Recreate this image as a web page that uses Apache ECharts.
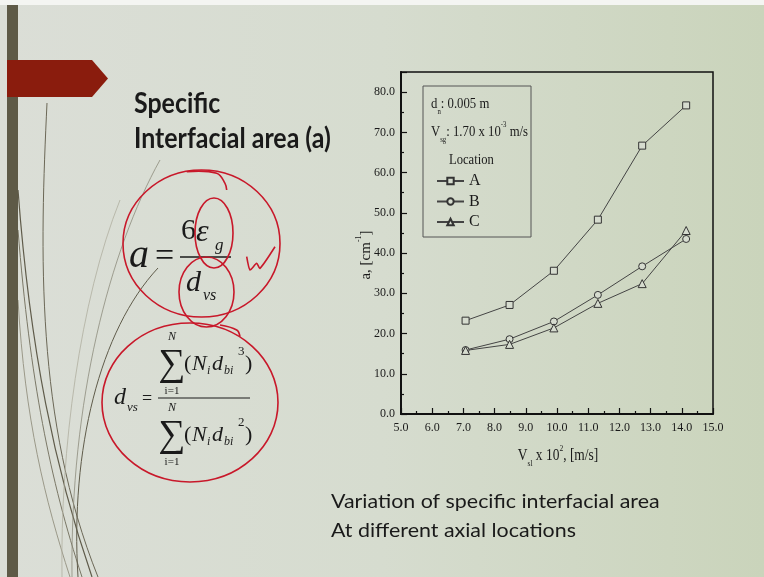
<!DOCTYPE html>
<html>
<head>
<meta charset="utf-8">
<script src="https://cdn.jsdelivr.net/npm/echarts@6/dist/echarts.min.js"></script>
<style>
html,body{margin:0;padding:0;}
#main{width:764px;height:577px;background:linear-gradient(90deg,#dbded7 0%,#d6dccf 50%,#cad4bb 100%);}
</style>
</head>
<body>
<div id="main"></div>
<script>
// ---- data ----
const xValues = [7.07, 8.48, 9.90, 11.31, 12.73, 14.14];
const seriesA = [23.2, 27.1, 35.6, 48.3, 66.7, 76.7];
const seriesB = [15.9, 18.6, 23.0, 29.6, 36.7, 43.5];
const seriesC = [15.8, 17.3, 21.4, 27.5, 32.4, 45.6];
const seriesNames = ['A', 'B', 'C'];
const xTicks = [5, 6, 7, 8, 9, 10, 11, 12, 13, 14, 15];
const yTicks = [0, 10, 20, 30, 40, 50, 60, 70, 80];

const BG = '#d6dccf';
const INK = '#1a1a1a';
const RED = '#c8182a';
const SERIF = '"Liberation Serif","Times New Roman",serif';

function pairs(xs, ys) { return xs.map((x, i) => [x, ys[i]]); }
function txt(x, y, text, size, o) {
  o = o || {};
  return {
    type: 'text', x: x, y: y, z: 50, scaleX: o.sx || 1,
    style: {
      text: text, fill: o.fill || INK, fontSize: size,
      fontFamily: o.ff || SERIF, fontStyle: o.italic ? 'italic' : 'normal',
      fontWeight: o.bold ? 'bold' : 'normal',
      align: o.align || 'left', verticalAlign: o.va || 'middle'
    }
  };
}
// rich text with sub/superscripts: parts = [[text, 'n'|'sub'|'sup'], ...]
function rich(x, y, parts, size, o) {
  o = o || {};
  const L = Math.round(size * 1.5);
  const s = Math.round(size * 0.55);
  const base = { fontSize: size, fontFamily: SERIF, fontWeight: o.bold ? 'bold' : 'normal', lineHeight: L, verticalAlign: 'middle', fill: INK };
  return {
    type: 'text', x: x, y: y, z: 50, scaleX: o.sx || 1, rotation: o.rot || 0,
    style: {
      text: parts.map(p => '{' + p[1] + '|' + p[0] + '}').join(''),
      fontSize: size, fontFamily: SERIF, fill: INK,
      align: o.align || 'left', verticalAlign: 'middle',
      rich: {
        n: base,
        sub: Object.assign({}, base, { fontSize: s, lineHeight: s + 2, verticalAlign: 'bottom' }),
        sup: Object.assign({}, base, { fontSize: s, lineHeight: s + 2, verticalAlign: 'top' })
      }
    }
  };
}
function redLine(points, smooth) {
  return { type: 'polyline', z: 60, shape: { points: points, smooth: smooth || 0.4 },
    style: { stroke: RED, lineWidth: 1.6, fill: null } };
}
function redEllipse(cx, cy, rx, ry) {
  return { type: 'ellipse', z: 60, shape: { cx: cx, cy: cy, rx: rx, ry: ry },
    style: { stroke: RED, lineWidth: 1.6, fill: null } };
}
function curve(x1, y1, cx1, cy1, cx2, cy2, x2, y2, color, w) {
  return { type: 'bezierCurve', z: 1,
    shape: { x1: x1, y1: y1, cpx1: cx1, cpy1: cy1, cpx2: cx2, cpy2: cy2, x2: x2, y2: y2 },
    style: { stroke: color, lineWidth: w, fill: null } };
}

const chart = echarts.init(document.getElementById('main'), null, { renderer: 'canvas' });

const seriesData = [seriesA, seriesB, seriesC];
const symbols = ['rect', 'circle', 'triangle'];
const symSizes = [7, 7, 8];

const graphics = [
  { type: 'rect', z: 0, shape: { x: 0, y: 0, width: 764, height: 5 }, style: { fill: '#f4f5f2' } },
  { type: 'rect', z: 2, shape: { x: 7, y: 5, width: 11, height: 572 }, style: { fill: '#5e5a47' } },
  { type: 'polygon', z: 3, shape: { points: [[7, 60], [92, 60], [108, 78.5], [92, 97], [7, 97]] },
    style: { fill: '#8a1c0d' } },
  // decorative curves
  curve(47, 103, 40, 250, 35, 420, 98, 577, '#6b6756', 1),
  curve(18, 190, 30, 350, 55, 470, 92, 577, '#5f5b4a', 1.2),
  curve(18, 230, 30, 380, 50, 480, 82, 577, '#7a7766', 1),
  curve(18, 300, 25, 420, 45, 500, 70, 577, '#9a9888', 1),
  curve(160, 160, 110, 250, 70, 400, 72, 577, '#8d8b7c', 0.8),
  curve(158, 268, 100, 330, 70, 450, 78, 577, '#5f5b4a', 1),
  curve(120, 200, 80, 300, 60, 450, 62, 577, '#b0ae9f', 0.8),

  // title
  txt(134, 104, 'Specific', 29, { ff: 'Lato', bold: true, sx: 0.86 }),
  txt(134, 139, 'Interfacial area (a)', 29, { ff: 'Lato', bold: true, sx: 0.86 }),

  // caption
  txt(331, 502, 'Variation of specific interfacial area', 20, { ff: 'Lato', sx: 1.07 }),
  txt(331, 531, 'At different axial locations', 20, { ff: 'Lato', sx: 1.07 }),

  // formula 1
  txt(129, 256, 'a', 40, { italic: true }),
  txt(155, 257, '=', 34),
  { type: 'line', z: 50, shape: { x1: 180, y1: 257, x2: 231, y2: 257 }, style: { stroke: INK, lineWidth: 1.4 } },
  txt(181, 231, '6', 30),
  txt(196, 233, 'ε', 32, { italic: true }),
  txt(215, 246, 'g', 17, { italic: true }),
  txt(186, 283, 'd', 30, { italic: true }),
  txt(203, 296, 'vs', 16, { italic: true }),

  // formula 2
  txt(114, 398, 'd', 24, { italic: true }),
  txt(127, 408, 'vs', 13, { italic: true }),
  txt(142, 399, '=', 18),
  { type: 'line', z: 50, shape: { x1: 158, y1: 398, x2: 250, y2: 398 }, style: { stroke: INK, lineWidth: 1 } },
  txt(172, 337, 'N', 12, { italic: true, align: 'center' }),
  txt(172, 365, '∑', 38, { align: 'center' }),
  txt(172, 391, 'i=1', 11, { align: 'center' }),
  txt(184, 364, '(', 22),
  txt(192, 364, 'N', 22, { italic: true }),
  txt(207, 371, 'i', 12, { italic: true }),
  txt(212, 364, 'd', 22, { italic: true }),
  txt(224, 371, 'bi', 12, { italic: true }),
  txt(238, 352, '3', 13),
  txt(245, 364, ')', 22),
  txt(172, 408, 'N', 12, { italic: true, align: 'center' }),
  txt(172, 436, '∑', 38, { align: 'center' }),
  txt(172, 462, 'i=1', 11, { align: 'center' }),
  txt(184, 435, '(', 22),
  txt(192, 435, 'N', 22, { italic: true }),
  txt(207, 442, 'i', 12, { italic: true }),
  txt(212, 435, 'd', 22, { italic: true }),
  txt(224, 442, 'bi', 12, { italic: true }),
  txt(238, 423, '2', 13),
  txt(245, 435, ')', 22),

  // red annotations
  redEllipse(201.5, 243.5, 78.5, 73.5),
  redEllipse(214, 233, 19, 35),
  redEllipse(206.5, 292, 27.5, 35),
  redEllipse(190, 402.5, 88, 79.5),
  redLine([[246.7, 256.7], [250, 270], [256.7, 263.3], [260, 268.3], [275, 246.7]], 0.2),
  redLine([[186.7, 171.7], [216.7, 173.3], [225, 183.3], [226.7, 190]], 0.4),
  redLine([[220, 325], [236.7, 330], [240, 336.7]], 0.4),

  // info box in chart
  { type: 'rect', z: 40, shape: { x: 423, y: 86, width: 108, height: 151 },
    style: { fill: null, stroke: '#555', lineWidth: 1 } },
  rich(431, 104, [['d', 'n'], ['n', 'sub'], [': 0.005 m', 'n']], 15, { sx: 0.85 }),
  rich(431, 132, [['V', 'n'], ['sg', 'sub'], [': 1.70 x 10', 'n'], ['-3', 'sup'], [' m/s', 'n']], 15, { sx: 0.85 }),
  txt(449, 160, 'Location', 15, { sx: 0.84 }),

  // axis titles
  rich(366, 255, [['a, [cm', 'n'], ['-1', 'sup'], [']', 'n']], 15, { rot: Math.PI / 2, align: 'center' }),
  rich(558, 456, [['V', 'n'], ['sl', 'sub'], [' x 10', 'n'], ['2', 'sup'], [', [m/s]', 'n']], 16, { sx: 0.84, align: 'center' })
];

chart.setOption({
  backgroundColor: 'transparent',
  animation: false,
  grid: { left: 401, right: 51, top: 72, bottom: 163, show: true, borderColor: '#111', borderWidth: 1.5 },
  legend: {
    orient: 'vertical', left: 431, top: 168, itemWidth: 27, itemHeight: 8, itemGap: 4.5,
    data: seriesNames,
    textStyle: { fontFamily: SERIF, fontSize: 16, color: INK }
  },
  xAxis: {
    type: 'value', min: xTicks[0], max: xTicks[xTicks.length - 1], interval: 1,
    axisLine: { show: true, lineStyle: { color: '#111', width: 2 } },
    axisTick: { inside: true, length: 6, lineStyle: { color: '#111', width: 1.2 } },
    minorTick: { show: true, splitNumber: 2, length: 3, lineStyle: { color: '#111', width: 1.2 } },
    splitLine: { show: false },
    axisLabel: { fontFamily: SERIF, fontSize: 12, color: INK, margin: 8,
      formatter: v => xTicks.indexOf(v) >= 0 ? v.toFixed(1) : '' }
  },
  yAxis: {
    type: 'value', min: 0, max: 85, interval: 10,
    axisLine: { show: true, lineStyle: { color: '#111', width: 2 } },
    axisTick: { inside: true, length: 6, lineStyle: { color: '#111', width: 1.2 } },
    minorTick: { show: true, splitNumber: 2, length: 3, lineStyle: { color: '#111', width: 1.2 } },
    splitLine: { show: false },
    axisLabel: { fontFamily: SERIF, fontSize: 12, color: INK, margin: 6,
      formatter: v => yTicks.indexOf(v) >= 0 ? v.toFixed(1) : '' }
  },
  series: seriesNames.map((n, i) => ({
    name: n, type: 'line', data: pairs(xValues, seriesData[i]),
    symbol: symbols[i], symbolSize: symSizes[i], showSymbol: true,
    lineStyle: { color: '#444', width: 1 },
    itemStyle: { color: BG, borderColor: '#333', borderWidth: 1 }
  })),
  graphic: graphics
});
</script>
</body>
</html>
